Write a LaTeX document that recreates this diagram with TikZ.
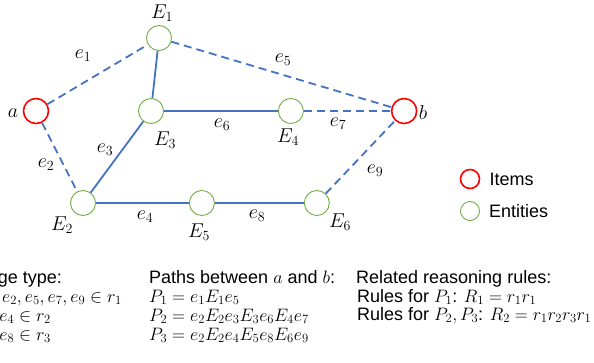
\documentclass[tikz,border=0pt]{standalone}
\usepackage{fix-cm}
\usepackage{amsmath}
\usepackage{amssymb}
\usepackage{fontspec}
\setmainfont{Liberation Sans}
\usepackage{xcolor}
\usepackage{tikz}
\usetikzlibrary{positioning}
\definecolor{itemred}{RGB}{255,0,0}
\definecolor{entgreen}{RGB}{112,173,71}
\definecolor{edgeblue}{RGB}{68,114,196}
\tikzset{
  item/.style={draw=itemred, circle, line width=1.6pt, minimum size=25pt, inner sep=0pt},
  entity/.style={draw=entgreen, circle, line width=0.9pt, minimum size=25pt, inner sep=0pt},
  link/.style={draw=edgeblue, line width=1.8pt},
  hop/.style={link, dash pattern=on 8pt off 5pt},
  lab/.style={inner sep=0pt, font=\fontsize{20}{20}\selectfont},
  txt/.style={inner sep=0pt, anchor=base west, font=\fontsize{18}{19}\selectfont},
}

\begin{document}
\begin{tikzpicture}[x=1pt, y=-1pt, node distance=10pt]
  \useasboundingbox (0,0) rectangle (594,362);

  \node[item] (a) at (36,111) {};
  \node[entity] (E1) at (159,38) {};
  \node[entity] (E3) at (151,111) {};
  \node[entity, right=114pt of E3] (E4) {};
  \node[item, right=87pt of E4] (b) {};
  \node[entity] (E2) at (83,203) {};
  \node[entity, right=93pt of E2] (E5) {};
  \node[entity, right=89pt of E5] (E6) {};

  \draw[hop] (a) -- (E1);
  \draw[hop] (a) -- (E2);
  \draw[hop] (E1) -- (b);
  \draw[hop] (E4) -- (b);
  \draw[hop] (E6) -- (b);
  \draw[link] (E1) -- (E3);
  \draw[link] (E3) -- (E4);
  \draw[link] (E3) -- (E2);
  \draw[link] (E2) -- (E5);
  \draw[link] (E5) -- (E6);

  \node[lab] (na) at (13,113) {$a$};
  \node[lab] (nb) at (423,113) {$b$};
  \node[lab] (nE1) at (162,13) {$E_1$};
  \node[lab] (nE2) at (62,225) {$E_2$};
  \node[lab] (nE3) at (165,140) {$E_3$};
  \node[lab] (nE4) at (288,137) {$E_4$};
  \node[lab] (nE5) at (199,232) {$E_5$};
  \node[lab] (nE6) at (340,222) {$E_6$};
  \node[lab] (ne1) at (83,56) {$e_1$};
  \node[lab] (ne2) at (46,165) {$e_2$};
  \node[lab] (ne3) at (105,150) {$e_3$};
  \node[lab] (ne4) at (145,217) {$e_4$};
  \node[lab] (ne5) at (283,60) {$e_5$};
  \node[lab] (ne6) at (222,125) {$e_6$};
  \node[lab] (ne7) at (338,124) {$e_7$};
  \node[lab] (ne8) at (257,216) {$e_8$};
  \node[lab] (ne9) at (375,171) {$e_9$};

  \node[item, minimum size=19pt] (kitem) at (470,179) {};
  \node[entity, minimum size=19pt] (kent) at (470,211) {};
  \node[txt, anchor=west, right=9pt of kitem] (kitemtxt) {Items};
  \node[txt, anchor=west, right=9pt of kent] (kenttxt) {Entities};

  \node[txt, anchor=base east] (tedge) at (62,283) {Edge type:};
  \node[txt, anchor=base east] (tr1) at (122,302) {$e_1, e_2, e_5, e_7, e_9 \in r_1$};
  \node[txt, anchor=base east] (tr2) at (51,321) {$e_3, e_4 \in r_2$};
  \node[txt, anchor=base east] (tr3) at (51,340) {$e_6, e_8 \in r_3$};

  \node[txt] (tpaths) at (149,283) {Paths between $a$ and $b$:};
  \node[txt] (tp1) at (149,302) {$P_1 = e_1E_1e_5$};
  \node[txt] (tp2) at (149,321) {$P_2 = e_2E_2e_3E_3e_6E_4e_7$};
  \node[txt] (tp3) at (149,340) {$P_3 = e_2E_2e_4E_5e_8E_6e_9$};

  \node[txt] (trules) at (356,283) {Related reasoning rules:};
  \node[txt] (trp1) at (357,302) {Rules for $P_1$: $R_1 = r_1r_1$};
  \node[txt] (trp2) at (357,320) {Rules for $P_2, P_3$: $R_2 = r_1r_2r_3r_1$};
\end{tikzpicture}
\end{document}
